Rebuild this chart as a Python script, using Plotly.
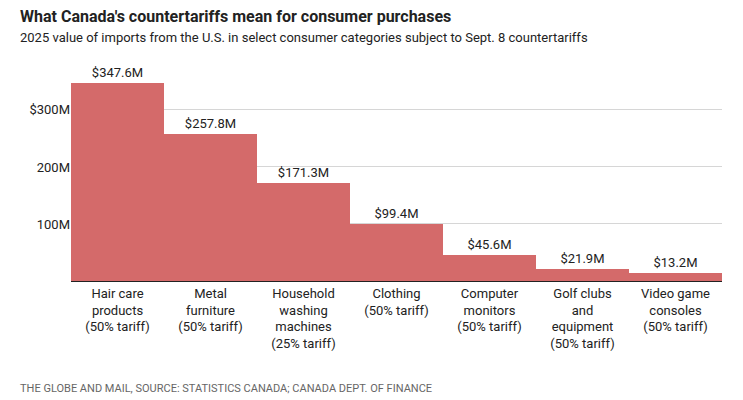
import plotly.graph_objects as go

CATEGORIES = [
    "Hair care<br>products<br>(50% tariff)",
    "Metal<br>furniture<br>(50% tariff)",
    "Household<br>washing<br>machines<br>(25% tariff)",
    "Clothing<br>(50% tariff)",
    "Computer<br>monitors<br>(50% tariff)",
    "Golf clubs<br>and<br>equipment<br>(50% tariff)",
    "Video game<br>consoles<br>(50% tariff)",
]
VALUES = [347.6, 257.8, 171.3, 99.4, 45.6, 21.9, 13.2]
TICK_VALS = [100, 200, 300]
TICK_TEXT = ["100M", "200M", "$300M"]

FONT = "Roboto"

fig = go.Figure(
    go.Bar(
        x=CATEGORIES,
        y=VALUES,
        marker=dict(color="#d46a6a", line=dict(width=0)),
        width=1.0,
        text=[f"${v}M" for v in VALUES],
        textposition="outside",
        textfont=dict(size=13, color="#222", family=FONT),
        cliponaxis=False,
    )
)

fig.update_layout(
    width=743,
    height=400,
    margin=dict(l=63, r=29, t=58, b=127),
    plot_bgcolor="white",
    paper_bgcolor="white",
    bargap=0,
    showlegend=False,
    font=dict(family=FONT, size=13, color="#222"),
    annotations=[
        dict(text="<b>What Canada's countertariffs mean for consumer purchases</b>",
             x=10, y=392, xref="paper", yref="paper", showarrow=False,
             xanchor="left", yanchor="middle", font=dict(size=16, color="#222")),
        dict(text="2025 value of imports from the U.S. in select consumer categories subject to Sept. 8 countertariffs",
             x=10, y=370, showarrow=False, xanchor="left", yanchor="middle",
             font=dict(size=13, color="#222")),
        dict(text="THE GLOBE AND MAIL, SOURCE: STATISTICS CANADA; CANADA DEPT. OF FINANCE",
             x=10, y=20, showarrow=False, xanchor="left", yanchor="middle",
             font=dict(size=11, color="#666")),
    ],
)
# place annotations in pixel-like coordinates via paper fractions
for a in fig.layout.annotations:
    a.xref = "paper"
    a.yref = "paper"
    a.x = (a.x - 63) / (743 - 63 - 29)
    a.y = (a.y - 127) / (400 - 58 - 127)

fig.update_xaxes(showgrid=False, showline=True, linecolor="#222", linewidth=1,
                 tickfont=dict(size=13, color="#222"), ticks="")
fig.update_yaxes(range=[0, 377], tickvals=TICK_VALS, ticktext=TICK_TEXT,
                 showgrid=True, gridcolor="#d6d6d6", zeroline=False,
                 tickfont=dict(size=13, color="#222"), ticks="")

fig.write_html("out.html")
